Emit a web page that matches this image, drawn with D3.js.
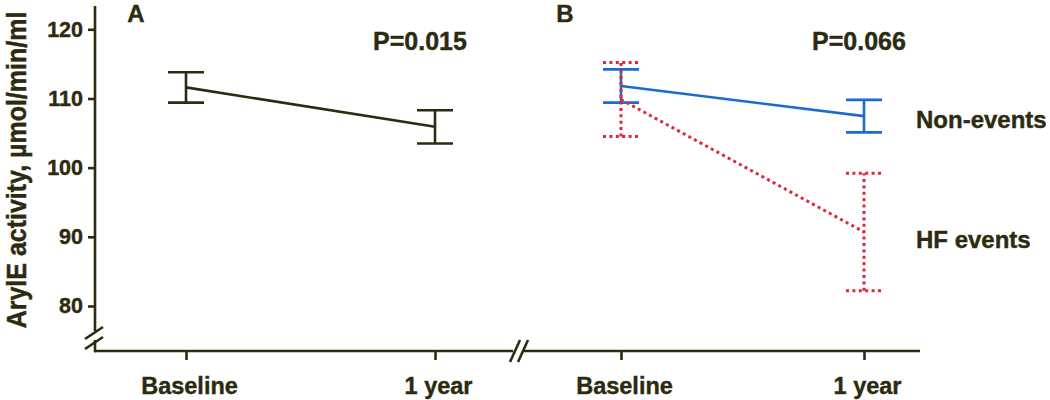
<!DOCTYPE html>
<html><head><meta charset="utf-8">
<script src="https://cdn.jsdelivr.net/npm/d3@7"></script>
<style>
html,body{margin:0;padding:0;background:#fff;}
text{font-family:"Liberation Sans",Arial,sans-serif;font-weight:bold;fill:#2c2b10;stroke:#2c2b10;stroke-width:0.4px;}
</style></head>
<body><svg id="c" width="1050" height="400"></svg>
<script>
// ---- data ----
const timepoints = ["Baseline", "1 year"];
const yTicks = [80, 90, 100, 110, 120];
const allMean = [111.6, 105.9];
const allErr = [2.2, 2.4];
const nonEventMean = [111.8, 107.45];
const nonEventErr = [2.4, 2.35];
const hfMean = [109.85, 90.7];
const hfErr = [5.35, 8.5];
const panelLabels = ["A", "B"];
const pValues = ["P=0.015", "P=0.066"];
const groupLabels = ["Non-events", "HF events"];
const yTitle = "ArylE activity, µmol/min/ml";

// ---- layout ----
const ink = "#2c2b10", blue = "#1b6bd0", red = "#e0263a";
const svg = d3.select("#c");
const y = d3.scaleLinear().domain([80, 120]).range([306, 29.3]);
const xA = d3.scalePoint().domain(timepoints).range([186, 435]);
const xB = d3.scalePoint().domain(timepoints).range([621, 864]);
const axisX = 95, axisY = 351, sw = 2.6;

// y axis with break
const yAxis = d3.axisLeft(y).tickValues(yTicks).tickSize(7).tickPadding(5);
const gy = svg.append("g").attr("transform", `translate(${axisX},0)`).call(yAxis);
gy.select(".domain").remove();
gy.selectAll(".tick line").attr("stroke", ink).attr("stroke-width", sw);
gy.selectAll(".tick text").style("font-size", "21.5px").attr("fill", ink);
svg.append("line").attr("x1", axisX).attr("x2", axisX).attr("y1", 6).attr("y2", 331)
  .attr("stroke", ink).attr("stroke-width", sw);
svg.append("line").attr("x1", axisX).attr("x2", axisX).attr("y1", 340).attr("y2", axisY + sw / 2)
  .attr("stroke", ink).attr("stroke-width", sw);
[0, 10].forEach(d => svg.append("line")
  .attr("x1", 85).attr("y1", 339 + d).attr("x2", 103).attr("y2", 327 + d)
  .attr("stroke", ink).attr("stroke-width", sw));

// x axis with break
svg.append("line").attr("x1", axisX).attr("x2", 513).attr("y1", axisY).attr("y2", axisY)
  .attr("stroke", ink).attr("stroke-width", sw);
svg.append("line").attr("x1", 523).attr("x2", 920).attr("y1", axisY).attr("y2", axisY)
  .attr("stroke", ink).attr("stroke-width", sw);
[0, 8].forEach(d => svg.append("line")
  .attr("x1", 510 + d).attr("y1", 362).attr("x2", 520 + d).attr("y2", 340)
  .attr("stroke", ink).attr("stroke-width", sw));

function xAxisPanel(sc) {
  const ax = d3.axisBottom(sc).tickSize(9).tickPadding(20);
  const g = svg.append("g").attr("transform", `translate(0,${axisY})`).call(ax);
  g.select(".domain").remove();
  g.selectAll(".tick line").attr("stroke", ink).attr("stroke-width", sw);
  g.selectAll(".tick text").style("font-size", "23.5px").attr("fill", ink)
    .attr("dy", "0").attr("y", 43).attr("x", 3);
}
xAxisPanel(xA);
xAxisPanel(xB);

// series
function series(sc, mean, err, color, dash) {
  const g = svg.append("g");
  const pts = timepoints.map((t, i) => ({ x: sc(t), m: mean[i], e: err[i] }));
  const st = s => s.attr("stroke", color).attr("stroke-width", dash ? 3 : sw)
    .attr("fill", "none").attr("stroke-dasharray", dash ? "3,3.4" : null);
  st(g.append("path").attr("d", d3.line().x(d => d.x).y(d => y(d.m))(pts)));
  pts.forEach(p => {
    st(g.append("line").attr("x1", p.x).attr("x2", p.x).attr("y1", y(p.m - p.e)).attr("y2", y(p.m + p.e)));
    [p.m - p.e, p.m + p.e].forEach(v =>
      st(g.append("line").attr("x1", p.x - 18).attr("x2", p.x + 18).attr("y1", y(v)).attr("y2", y(v))));
  });
}
series(xA, allMean, allErr, ink, false);
series(xB, nonEventMean, nonEventErr, blue, false);
series(xB, hfMean, hfErr, red, true);

// text annotations
function label(txt, x, yy, size, anchor) {
  svg.append("text").attr("x", x).attr("y", yy)
    .attr("text-anchor", anchor).style("font-size", size + "px").text(txt);
}
label(panelLabels[0], 136, 22, 24, "middle");
label(panelLabels[1], 565, 22, 24, "middle");
label(pValues[0], 420, 50, 25, "middle");
label(pValues[1], 859, 50, 25, "middle");
label(groupLabels[0], 916, 128, 24, "start");
label(groupLabels[1], 916, 248, 24, "start");

svg.append("text").attr("transform", "translate(26,170) scale(1.1,1) rotate(-90)")
  .attr("text-anchor", "middle").style("font-size", "25px").text(yTitle);
</script></body></html>
